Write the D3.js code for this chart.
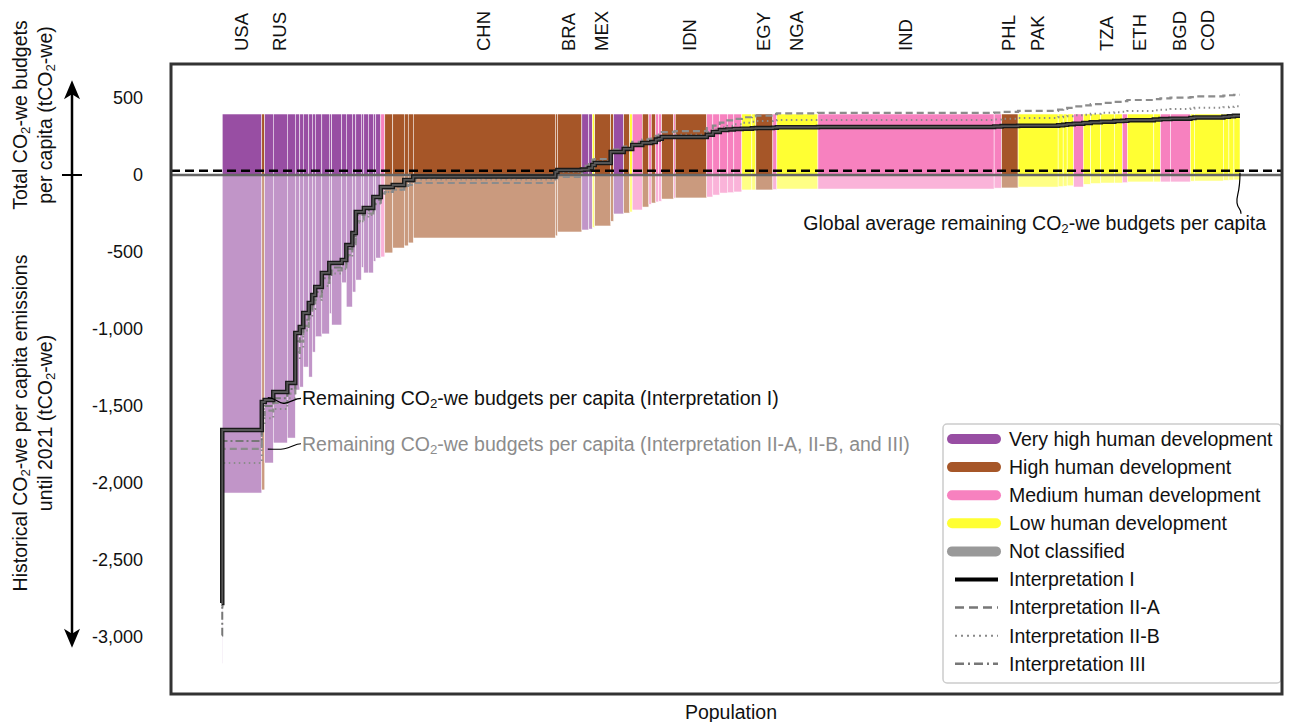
<!DOCTYPE html>
<html lang="en">
<head>
<meta charset="UTF-8">
<title>CO2-we budgets per capita</title>
<script src="https://cdn.jsdelivr.net/npm/d3@7"></script>
<style>
  body { margin: 0; background: #fff; }
  svg { display: block; font-family: "Liberation Sans", Arial, sans-serif; }
</style>
</head>
<body>
<svg width="1294" height="722"></svg>
<script>
// countries sorted left to right (labels only where the chart shows them)
var codes = [
  "", "USA", "", "", "RUS", "", "", "", "", "",
  "", "", "", "", "", "", "", "", "", "",
  "", "", "", "", "", "", "", "", "", "CHN",
  "", "BRA", "", "", "", "MEX", "", "", "", "",
  "", "", "", "", "", "", "", "", "IDN", "",
  "", "", "", "", "", "", "EGY", "", "NGA", "IND",
  "", "PHL", "PAK", "", "", "", "", "", "", "TZA",
  "", "", "ETH", "", "", "BGD", "", "COD", "", "",
  ""
];
// V very high, H high, M medium, L low human development
var groups = [
  "V", "V", "H", "V", "V", "V", "V", "V", "V", "V",
  "V", "V", "V", "V", "V", "V", "V", "V", "V", "V",
  "V", "V", "V", "V", "M", "H", "H", "H", "H", "H",
  "H", "H", "V", "V", "L", "H", "H", "V", "H", "L",
  "M", "H", "M", "H", "M", "M", "H", "M", "H", "M",
  "M", "M", "M", "M", "L", "L", "H", "M", "L", "M",
  "M", "H", "L", "L", "L", "L", "M", "L", "L", "L",
  "L", "M", "L", "L", "M", "M", "L", "L", "L", "L",
  "L"
];
// population (millions)
var population = [
  2, 307, 23, 66, 109, 62, 35, 27, 43, 27,
  23, 51, 58, 19, 78, 35, 47, 27, 43, 19,
  35, 39, 19, 39, 31, 62, 89, 31, 39, 1103,
  16, 190, 54, 27, 19, 124, 23, 78, 47, 19,
  78, 51, 19, 35, 23, 23, 93, 12, 245, 47,
  54, 58, 51, 62, 78, 31, 132, 31, 319, 1368,
  58, 128, 311, 39, 31, 51, 74, 58, 78, 105,
  62, 39, 206, 51, 78, 155, 31, 225, 43, 39,
  47
];
// historical per capita emissions until 2021 (tCO2-we)
var historical = [
  -3170, -2065, -2045, -1870, -1740, -1708, -1396, -1377, -1247, -1312,
  -1150, -1050, -1032, -900, -974, -700, -857, -760, -682, -600,
  -636, -636, -560, -539, -532, -506, -474, -460, -441, -409,
  -395, -370, -357, -351, -340, -331, -300, -253, -247, -240,
  -227, -208, -190, -182, -175, -170, -156, -150, -149, -143,
  -130, -117, -115, -110, -97, -97, -97, -94, -91, -91,
  -85, -84, -78, -75, -72, -70, -78, -60, -55, -52,
  -52, -50, -45, -45, -45, -45, -40, -39, -35, -33,
  -32
];
// remaining budgets per capita, one value per country and interpretation
var remainingI = [
  -2780, -1656, -1474, -1461, -1409, -1350, -1026, -987, -896, -831,
  -780, -727, -636, -571, -571, -552, -455, -377, -240, -240,
  -214, -214, -143, -143, -78, -78, -65, -32, -32, -10,
  20, 32, 35, 45, 65, 78, 150, 150, 169, 169,
  195, 208, 208, 214, 230, 235, 247, 247, 247, 262,
  280, 292, 296, 299, 301, 303, 305, 307, 310, 312,
  315, 318, 320, 323, 326, 330, 333, 338, 342, 346,
  350, 352, 356, 360, 363, 366, 370, 374, 378, 381,
  384
];
var remainingIIA = [
  -2800, -1779, -1560, -1530, -1480, -1420, -1150, -1080, -980, -900,
  -850, -790, -700, -640, -620, -600, -520, -440, -300, -290,
  -260, -250, -190, -180, -120, -110, -95, -70, -65, -52,
  -20, -13, 60, 80, 100, 104, 160, 165, 185, 190,
  215, 230, 235, 245, 255, 262, 279, 282, 285, 305,
  320, 340, 355, 365, 375, 380, 385, 395, 400, 403,
  405, 410, 416, 425, 430, 436, 445, 452, 460, 468,
  475, 480, 487, 493, 497, 502, 506, 510, 515, 518,
  521
];
var remainingIIB = [
  -2800, -1870, -1620, -1580, -1520, -1450, -1200, -1120, -1010, -930,
  -870, -810, -720, -650, -640, -610, -530, -450, -310, -300,
  -270, -260, -195, -185, -120, -110, -95, -60, -55, -30,
  5, 20, 45, 55, 75, 90, 150, 152, 172, 175,
  200, 212, 214, 220, 235, 240, 255, 258, 262, 280,
  295, 310, 320, 330, 340, 345, 350, 355, 357, 357,
  360, 365, 370, 375, 378, 382, 388, 392, 398, 404,
  408, 410, 415, 420, 424, 428, 432, 436, 440, 443,
  446
];
var remainingIII = [
  -2990, -1727, -1520, -1500, -1450, -1390, -1080, -1030, -940, -870,
  -810, -760, -670, -600, -600, -575, -480, -400, -260, -260,
  -230, -230, -160, -160, -90, -90, -75, -42, -42, -18,
  12, 25, 32, 42, 60, 74, 145, 146, 165, 165,
  190, 204, 204, 210, 226, 230, 243, 243, 243, 258,
  276, 288, 292, 295, 297, 299, 301, 303, 306, 308,
  311, 314, 316, 319, 322, 326, 329, 334, 338, 342,
  346, 348, 352, 356, 359, 362, 366, 370, 374, 377,
  380
];
var totalBudget = 396;     // total CO2-we budget per capita
var globalAverage = 27;    // global average remaining budget per capita
var yTicks = [500, 0, -500, -1000, -1500, -2000, -2500, -3000];

var groupKeys = ["V", "H", "M", "L", "N"];
var groupNames = ["Very high human development", "High human development",
  "Medium human development", "Low human development", "Not classified"];
var groupColors = ["#984ea3", "#a65628", "#f781bf", "#ffff33", "#999999"];
var interpNames = ["Interpretation I", "Interpretation II-A", "Interpretation II-B", "Interpretation III"];

var svg = d3.select("svg");
var frame = { x0: 171, x1: 1282, y0: 64, y1: 694 };
var fs = 19.5; // text size of titles, notes and legend

var cum = [0];
population.forEach(function (p, i) { cum.push(cum[i] + p); });
var total = cum[cum.length - 1];

var x = d3.scaleLinear().domain([0, total]).range([222, 1240]);
var y = d3.scaleLinear().domain([0, 500]).range([175, 98]);
var color = d3.scaleOrdinal().domain(groupKeys).range(groupColors);

var idx = d3.range(population.length);

// upper bars: total budgets
svg.append("g").selectAll("rect").data(idx).enter().append("rect")
  .attr("x", function (i) { return x(cum[i]); })
  .attr("width", function (i) { return x(cum[i + 1]) - x(cum[i]); })
  .attr("y", y(totalBudget))
  .attr("height", y(0) - y(totalBudget))
  .attr("fill", function (i) { return color(groups[i]); })
  .attr("stroke", "#fff").attr("stroke-width", 0.5);

// lower bars: historical emissions
svg.append("g").selectAll("rect").data(idx).enter().append("rect")
  .attr("x", function (i) { return x(cum[i]); })
  .attr("width", function (i) { return x(cum[i + 1]) - x(cum[i]); })
  .attr("y", y(0))
  .attr("height", function (i) { return y(historical[i]) - y(0); })
  .attr("fill", function (i) { return color(groups[i]); })
  .attr("fill-opacity", 0.6)
  .attr("stroke", "#fff").attr("stroke-width", 0.5);

// zero line and global average
svg.append("line").attr("x1", frame.x0).attr("x2", frame.x1)
  .attr("y1", y(0)).attr("y2", y(0))
  .attr("stroke", "#666").attr("stroke-width", 2.5);
svg.append("line").attr("x1", frame.x0).attr("x2", frame.x1)
  .attr("y1", y(globalAverage)).attr("y2", y(globalAverage))
  .attr("stroke", "#000").attr("stroke-width", 2.5).attr("stroke-dasharray", "9,5");

// step lines of remaining budgets
function steps(vals) {
  var pts = [];
  vals.forEach(function (v, i) { pts.push([cum[i], v], [cum[i + 1], v]); });
  return pts;
}
var line = d3.line().x(function (d) { return x(d[0]); }).y(function (d) { return y(d[1]); });

svg.append("path").attr("d", line(steps(remainingIIA))).attr("fill", "none")
  .attr("stroke", "#8c8c8c").attr("stroke-width", 2.2).attr("stroke-dasharray", "7,4");
svg.append("path").attr("d", line(steps(remainingIIB))).attr("fill", "none")
  .attr("stroke", "#8c8c8c").attr("stroke-width", 2).attr("stroke-dasharray", "1.5,3.5");
svg.append("path").attr("d", line(steps(remainingIII))).attr("fill", "none")
  .attr("stroke", "#777").attr("stroke-width", 2).attr("stroke-dasharray", "8,3,2,3");
svg.append("path").attr("d", line(steps(remainingI))).attr("fill", "none")
  .attr("stroke", "#1a1a1a").attr("stroke-width", 4.5);
svg.append("path").attr("d", line(steps(remainingI))).attr("fill", "none")
  .attr("stroke", "#555").attr("stroke-width", 1.8);

// text with subscript 2
function richText(sel, str) {
  var parts = str.split("\u2082");
  parts.forEach(function (p, k) {
    if (k > 0) {
      sel.append("tspan").attr("font-size", "0.68em").attr("dy", 3).text("2");
      sel.append("tspan").attr("dy", -3).text(p);
    } else {
      sel.append("tspan").text(p);
    }
  });
  return sel;
}

// country labels on top
svg.append("g").selectAll("text").data(idx.filter(function (i) { return codes[i]; }))
  .enter().append("text")
  .attr("transform", function (i) {
    return "translate(" + (x((cum[i] + cum[i + 1]) / 2) - 1) + ",51) rotate(-90)";
  })
  .attr("dy", "0.35em").attr("font-size", 18.5).attr("fill", "#111")
  .text(function (i) { return codes[i]; });

// y ticks
var fmt = d3.format(",");
svg.append("g").selectAll("text").data(yTicks).enter().append("text")
  .attr("x", 143).attr("y", function (d) { return y(d); })
  .attr("dy", "0.35em").attr("text-anchor", "end")
  .attr("font-size", 18).attr("fill", "#111")
  .text(function (d) { return fmt(d).replace("\u2212", "-"); });

// double arrow axis
var ax = 72, topTip = y(615), botTip = y(-3070);
svg.append("line").attr("x1", ax).attr("x2", ax).attr("y1", topTip + 10).attr("y2", botTip - 10)
  .attr("stroke", "#000").attr("stroke-width", 2.5);
svg.append("path").attr("d", "M" + ax + "," + topTip + "L" + (ax - 8) + "," + (topTip + 19) +
  "L" + ax + "," + (topTip + 14) + "L" + (ax + 8) + "," + (topTip + 19) + "Z").attr("fill", "#000");
svg.append("path").attr("d", "M" + ax + "," + botTip + "L" + (ax - 8) + "," + (botTip - 19) +
  "L" + ax + "," + (botTip - 14) + "L" + (ax + 8) + "," + (botTip - 19) + "Z").attr("fill", "#000");
svg.append("line").attr("x1", ax - 10).attr("x2", ax + 10).attr("y1", y(0)).attr("y2", y(0))
  .attr("stroke", "#000").attr("stroke-width", 2);

// y titles
function title(lines, cy) {
  lines.forEach(function (t, k) {
    var tx = svg.append("text")
      .attr("transform", "translate(" + (20 + k * 25) + "," + cy + ") rotate(-90)")
      .attr("dy", "0.35em").attr("text-anchor", "middle")
      .attr("font-size", fs).attr("fill", "#111");
    richText(tx, t);
  });
}
title(["Total CO\u2082-we budgets", "per capita (tCO\u2082-we)"], 115);
title(["Historical CO\u2082-we per capita emissions", "until 2021 (tCO\u2082-we)"], 423);

// x title
svg.append("text").attr("x", 731).attr("y", 712).attr("dy", "0.35em")
  .attr("text-anchor", "middle").attr("font-size", fs).attr("fill", "#111").text("Population");

// annotations
var gx = x(total), gy = y(globalAverage);
svg.append("path")
  .attr("d", "M" + gx + "," + (gy + 2) + "C" + gx + "," + (gy + 24) + " " + (gx - 4) + "," + (gy + 24) +
    " " + (gx - 3) + "," + (gy + 32) + "C" + (gx - 2) + "," + (gy + 39) + " " + (gx + 1) + "," + (gy + 37) +
    " " + (gx + 1) + "," + (gy + 43))
  .attr("fill", "none").attr("stroke", "#000").attr("stroke-width", 1.2);
richText(svg.append("text").attr("x", 1266).attr("y", gy + 52).attr("dy", "0.35em")
  .attr("text-anchor", "end").attr("font-size", fs).attr("fill", "#111"),
  "Global average remaining CO\u2082-we budgets per capita");

function tilde(x0, y0, x1, y1) {
  var mx = (x0 + x1) / 2;
  return "M" + x0 + "," + y0 + "C" + (x0 + 8) + "," + y0 + " " + (mx - 6) + "," + (y1 + 6) + " " + mx + "," + (y1 + 5) +
    "C" + (mx + 7) + "," + (y1 + 4) + " " + (x1 - 6) + "," + y1 + " " + x1 + "," + y1;
}
var lx = x(cum[2]) + 6;
svg.append("path").attr("d", tilde(lx, y(-1445), 301, y(-1450)))
  .attr("fill", "none").attr("stroke", "#000").attr("stroke-width", 1.2);
richText(svg.append("text").attr("x", 302).attr("y", y(-1450)).attr("dy", "0.35em")
  .attr("font-size", fs).attr("fill", "#111"),
  "Remaining CO\u2082-we budgets per capita (Interpretation I)");
svg.append("path").attr("d", tilde(lx, y(-1780), 301, y(-1745)))
  .attr("fill", "none").attr("stroke", "#000").attr("stroke-width", 1.2);
richText(svg.append("text").attr("x", 302).attr("y", y(-1745)).attr("dy", "0.35em")
  .attr("font-size", fs).attr("fill", "#8c8c8c"),
  "Remaining CO\u2082-we budgets per capita (Interpretation II-A, II-B, and III)");

// legend
var leg = svg.append("g").attr("transform", "translate(943,424)");
leg.append("rect").attr("width", 338).attr("height", 259).attr("rx", 4)
  .attr("fill", "#fff").attr("stroke", "#ccc").attr("stroke-width", 1.5);
var rowH = 28.1, row0 = 15;
groupNames.forEach(function (n, k) {
  var cy = row0 + k * rowH;
  leg.append("line").attr("x1", 9).attr("x2", 53).attr("y1", cy).attr("y2", cy)
    .attr("stroke", groupColors[k]).attr("stroke-width", 10).attr("stroke-linecap", "round");
  leg.append("text").attr("x", 66).attr("y", cy).attr("dy", "0.35em")
    .attr("font-size", fs).attr("fill", "#111").text(n);
});
var interpStyle = [
  { c: "#000", w: 4, d: null },
  { c: "#777", w: 2.5, d: "9,5" },
  { c: "#888", w: 2, d: "2,4" },
  { c: "#777", w: 2.5, d: "9,4,2,4" }
];
interpNames.forEach(function (n, k) {
  var cy = row0 + (k + 5) * rowH;
  var s = interpStyle[k];
  leg.append("line").attr("x1", 12).attr("x2", 55).attr("y1", cy).attr("y2", cy)
    .attr("stroke", s.c).attr("stroke-width", s.w).attr("stroke-dasharray", s.d);
  leg.append("text").attr("x", 66).attr("y", cy).attr("dy", "0.35em")
    .attr("font-size", fs).attr("fill", "#111").text(n);
});

// frame
svg.append("rect").attr("x", frame.x0).attr("y", frame.y0)
  .attr("width", frame.x1 - frame.x0).attr("height", frame.y1 - frame.y0)
  .attr("fill", "none").attr("stroke", "#333").attr("stroke-width", 3);
</script>
</body>
</html>
